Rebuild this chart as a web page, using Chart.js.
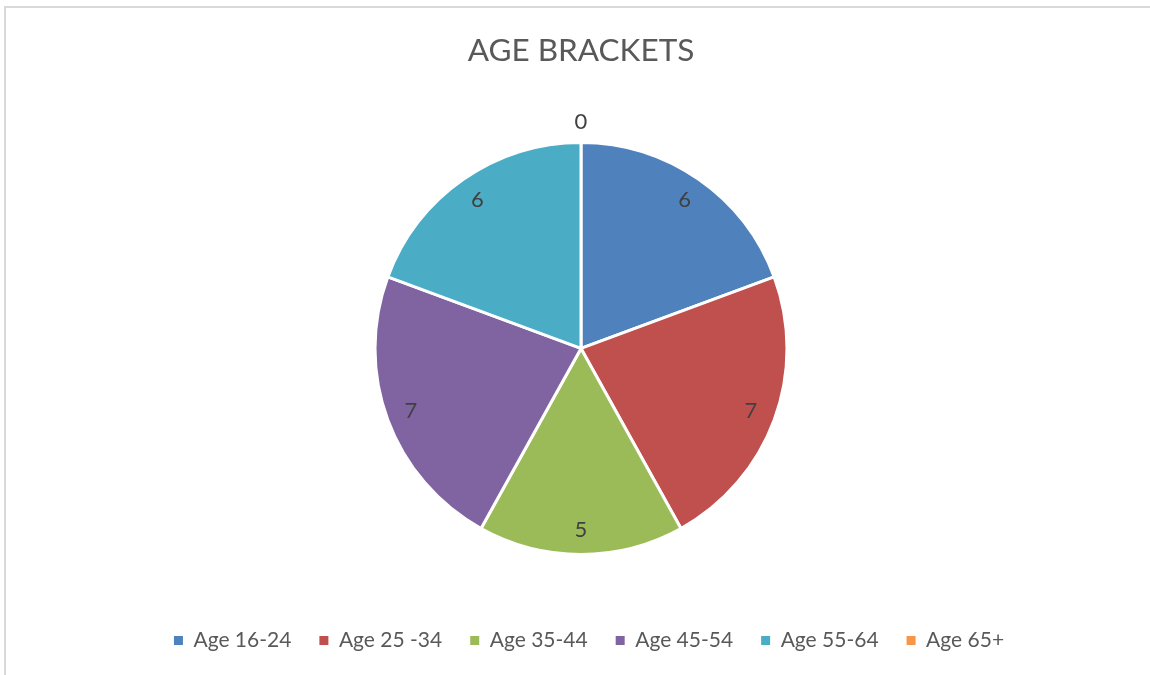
<!DOCTYPE html>
<html>
<head>
<meta charset="utf-8">
<script src="https://cdn.jsdelivr.net/npm/chart.js@4/dist/chart.umd.min.js"></script>
<style>
  html, body { margin: 0; padding: 0; background: #fff; }
  #wrap { position: relative; width: 1150px; height: 675px; overflow: hidden; }
  #frame { position: absolute; left: 4px; top: 6px; width: 1200px; height: 700px;
           border-left: 2px solid #d9d9d9; border-top: 2px solid #d9d9d9; }
  canvas { position: absolute; left: 0; top: 0; }
</style>
</head>
<body>
<div id="wrap">
  <div id="frame"></div>
  <canvas id="pie" width="1150" height="675"></canvas>
</div>
<script>
const categories = ['Age 16-24', 'Age 25 -34', 'Age 35-44', 'Age 45-54', 'Age 55-64', 'Age 65+'];
const counts = [6, 7, 5, 7, 6, 0];
const sliceColors = ['#4f81bd', '#c0504d', '#9bbb59', '#8064a2', '#4bacc6', '#f79646'];

const fontName = 'Lato';

// value labels, like excel's "best fit": inside the slice, zero goes outside
const valueLabels = {
  id: 'valueLabels',
  afterDatasetsDraw(chart) {
    const ctx = chart.ctx;
    const meta = chart.getDatasetMeta(0);
    ctx.save();
    ctx.font = '22px ' + fontName;
    ctx.fillStyle = '#404040';
    ctx.textAlign = 'center';
    ctx.textBaseline = 'middle';
    meta.data.forEach(function(arc, i){
      const p = arc.getProps(['x', 'y', 'startAngle', 'endAngle', 'outerRadius']);
      const mid = (p.startAngle + p.endAngle) / 2;
      const r = counts[i] == 0 ? p.outerRadius + 20 : p.outerRadius * 0.88;
      ctx.fillText(String(counts[i]), p.x + Math.cos(mid) * r, p.y + Math.sin(mid) * r);
    });
    ctx.restore();
  }
};

// legend sits a little right of the pie centre in the original
const legendNudge = {
  id: 'legendNudge',
  afterLayout(chart) {
    chart.legend.left += 8;
    chart.legend.right += 8;
  }
};

const config = {
  type: 'pie',
  data: {
    labels: categories,
    datasets: [{
      data: counts,
      backgroundColor: sliceColors,
      borderColor: '#ffffff',
      borderWidth: 3,
      radius: 206
    }]
  },
  options: {
    responsive: false,
    animation: false,
    layout: { padding: { top: 0, bottom: 14, left: 12, right: 0 } },
    plugins: {
      title: {
        display: true,
        text: 'AGE BRACKETS',
        color: '#595959',
        font: { family: fontName, size: 31.5, weight: 'normal' },
        padding: { top: 32, bottom: 25 }
      },
      legend: {
        position: 'bottom',
        labels: {
          color: '#595959',
          font: { family: fontName, size: 21 },
          boxWidth: 9,
          boxHeight: 9,
          padding: 28,
          generateLabels(chart) {
            const items = Chart.overrides.pie.plugins.legend.labels.generateLabels(chart);
            items.forEach(function(it){ it.lineWidth = 0; });
            return items;
          }
        }
      },
      tooltip: { enabled: false }
    }
  },
  plugins: [valueLabels, legendNudge]
};

const chart = new Chart(document.getElementById('pie'), config);
</script>
</body>
</html>
